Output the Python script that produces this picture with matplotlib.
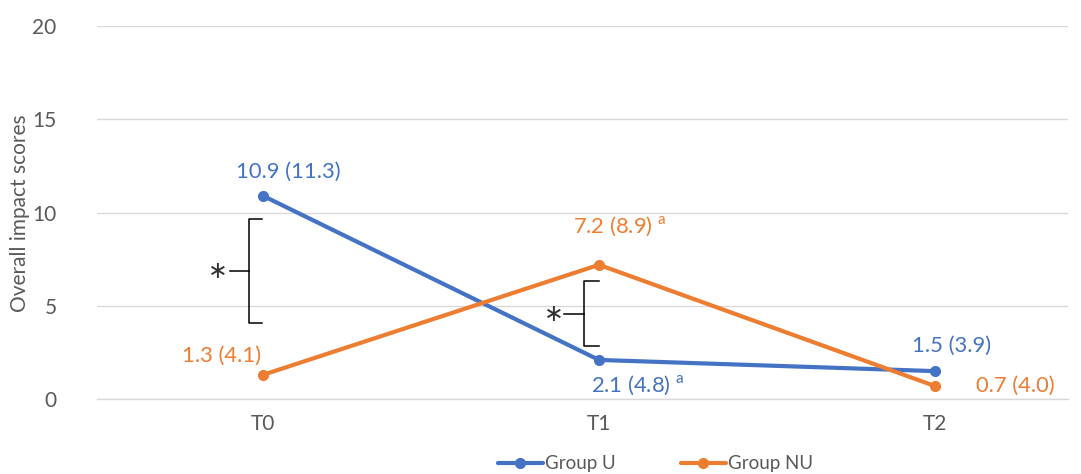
import matplotlib
matplotlib.use("Agg")
import matplotlib.pyplot as plt

# Data
timepoints = ["T0", "T1", "T2"]
group_u = [10.9, 2.1, 1.5]
group_u_sd = [11.3, 4.8, 3.9]
group_nu = [1.3, 7.2, 0.7]
group_nu_sd = [4.1, 8.9, 4.0]
u_flags = ["", "a", ""]
nu_flags = ["", "a", ""]

BLUE = "#4472C4"
ORANGE = "#ED7D31"
GREY = "#595959"
FS = 15
FS_VAL = 15.8

plt.rcParams["font.family"] = ["Lato", "DejaVu Sans"]
plt.rcParams["mathtext.fontset"] = "custom"
plt.rcParams["mathtext.rm"] = "Lato"

fig = plt.figure(figsize=(10.81, 4.74), dpi=100)
ax = fig.add_axes([0.0897, 0.158, 0.8983, 0.787])

x = list(range(len(timepoints)))
ax.plot(x, group_u, color=BLUE, lw=3, marker="o", ms=7, label="Group U",
        solid_capstyle="round", zorder=3)
ax.plot(x, group_nu, color=ORANGE, lw=3, marker="o", ms=7, label="Group NU",
        solid_capstyle="round", zorder=3)

ax.set_xlim(-0.494, 2.396)
ax.set_ylim(0, 20)
ax.set_yticks([0, 5, 10, 15, 20])
ax.set_xticks(x)
ax.set_xticklabels(timepoints)
ax.tick_params(axis="both", length=0, labelsize=FS, colors=GREY)
ax.tick_params(axis="y", pad=29)
ax.tick_params(axis="x", pad=11)
ax.grid(axis="y", color="#D9D9D9", lw=1)
ax.set_axisbelow(True)
for s in ["top", "right", "left"]:
    ax.spines[s].set_visible(False)
ax.spines["bottom"].set_color("#D9D9D9")
ax.spines["bottom"].set_linewidth(1)

fig.text(20 / 1081, 1 - 213 / 474, "Overall impact scores", rotation=90,
         ha="center", va="center", fontsize=FS, color=GREY)


def fmt(m, sd, flag):
    s = f"{m:.1f} ({sd:.1f})"
    if flag:
        s += r" $^{\mathregular{" + flag + "}}$"
    return s


# value labels (offsets in points)
u_offsets = [(18, 17), (28, -18), (12, 18)]
nu_offsets = [(-30, 14), (15, 28), (58, 0)]
for i in x:
    ax.annotate(fmt(group_u[i], group_u_sd[i], u_flags[i]), (i, group_u[i]),
                xytext=u_offsets[i], textcoords="offset points",
                ha="center", va="center", color=BLUE, fontsize=FS_VAL)
    ax.annotate(fmt(group_nu[i], group_nu_sd[i], nu_flags[i]), (i, group_nu[i]),
                xytext=nu_offsets[i], textcoords="offset points",
                ha="center", va="center", color=ORANGE, fontsize=FS_VAL)


def bracket(xc, y0, y1, dx_serif, dx_tick, xstar):
    ym = (y0 + y1) / 2
    ax.plot([xc + dx_serif, xc, xc, xc + dx_serif], [y1, y1, y0, y0],
            color="black", lw=1.1, zorder=2)
    ax.plot([xc + dx_tick, xc], [ym, ym], color="black", lw=1.1, zorder=2)
    ax.text(xstar, ym, "\u2217", ha="center", va="center", fontsize=17,
            color="#333333", family="DejaVu Sans")


bracket(-0.042, 4.07, 9.65, 0.04, -0.056, -0.134)
bracket(0.955, 2.84, 6.33, 0.045, -0.06, 0.866)

leg = ax.legend(loc="upper center", bbox_to_anchor=(0.575, -0.13), ncol=2,
                frameon=False, fontsize=13.5, handlelength=2.4,
                handletextpad=0.1, columnspacing=3.5, borderaxespad=0)
for t in leg.get_texts():
    t.set_color(GREY)

fig.savefig("out.png", dpi=100)
